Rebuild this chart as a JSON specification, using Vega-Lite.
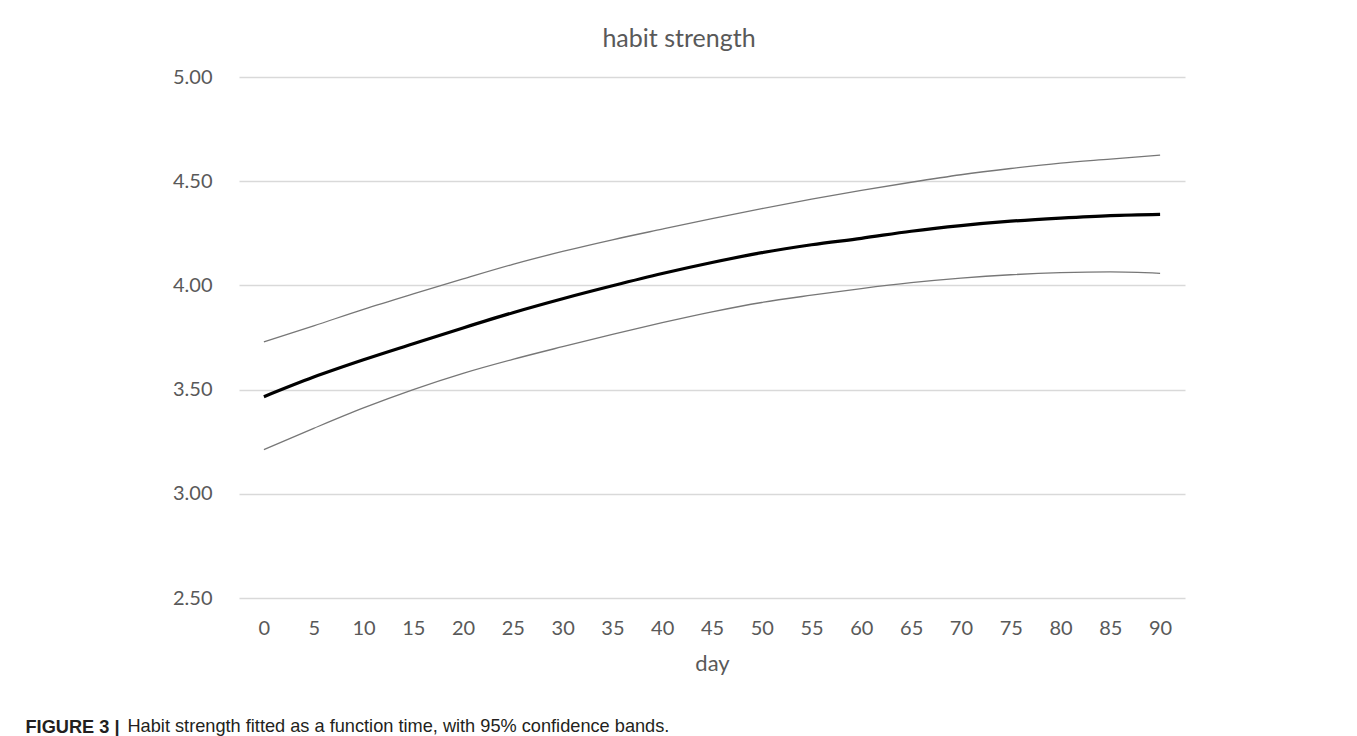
{
  "$schema": "https://vega.github.io/schema/vega-lite/v6.json",
  "autosize": {"type": "pad"},
  "padding": {"left": 25, "top": 27, "right": 10, "bottom": 3},
  "background": "white",
  "title": {
    "text": "Habit strength fitted as a function time, with 95% confidence bands.",
    "orient": "bottom",
    "anchor": "start",
    "font": "Liberation Sans",
    "fontSize": 18.2,
    "fontWeight": "normal",
    "color": "#231f20",
    "dx": 102,
    "offset": -18
  },
  "config": {
    "view": {"stroke": null},
    "font": "Lato",
    "axis": {
      "labelFont": "Lato",
      "labelFontSize": 20,
      "labelColor": "#595959",
      "titleFont": "Lato",
      "titleFontSize": 22,
      "titleColor": "#595959",
      "titleFontWeight": "normal",
      "domain": false,
      "ticks": false,
      "tickSize": 0
    }
  },
  "vconcat": [
    {
      "title": {
        "text": "FIGURE 3 |",
        "orient": "bottom",
        "anchor": "start",
        "font": "Liberation Sans",
        "fontSize": 18.2,
        "fontWeight": "bold",
        "color": "#231f20",
        "dx": -147,
        "offset": 45
      },
      "vconcat": [
        {
          "width": 946,
          "height": 521,
          "title": {
            "text": "habit strength",
            "font": "Lato",
            "fontSize": 25,
            "fontWeight": "normal",
            "color": "#595959",
            "anchor": "middle",
            "dx": -33,
            "offset": 15
          },
          "data": {
            "values": [
              {"day": 0, "lower": 3.212, "estimate": 3.466, "upper": 3.729},
              {"day": 5, "lower": 3.314, "estimate": 3.560, "upper": 3.806},
              {"day": 10, "lower": 3.412, "estimate": 3.643, "upper": 3.885},
              {"day": 15, "lower": 3.500, "estimate": 3.720, "upper": 3.959},
              {"day": 20, "lower": 3.578, "estimate": 3.796, "upper": 4.031},
              {"day": 25, "lower": 3.645, "estimate": 3.869, "upper": 4.101},
              {"day": 30, "lower": 3.706, "estimate": 3.936, "upper": 4.163},
              {"day": 35, "lower": 3.765, "estimate": 3.998, "upper": 4.219},
              {"day": 40, "lower": 3.821, "estimate": 4.057, "upper": 4.270},
              {"day": 45, "lower": 3.873, "estimate": 4.110, "upper": 4.320},
              {"day": 50, "lower": 3.918, "estimate": 4.157, "upper": 4.368},
              {"day": 55, "lower": 3.953, "estimate": 4.195, "upper": 4.414},
              {"day": 60, "lower": 3.985, "estimate": 4.226, "upper": 4.456},
              {"day": 65, "lower": 4.013, "estimate": 4.260, "upper": 4.495},
              {"day": 70, "lower": 4.035, "estimate": 4.287, "upper": 4.531},
              {"day": 75, "lower": 4.051, "estimate": 4.308, "upper": 4.561},
              {"day": 80, "lower": 4.061, "estimate": 4.323, "upper": 4.587},
              {"day": 85, "lower": 4.065, "estimate": 4.335, "upper": 4.606},
              {"day": 90, "lower": 4.058, "estimate": 4.341, "upper": 4.625}
            ]
          },
          "encoding": {
            "x": {
              "field": "day",
              "type": "ordinal",
              "sort": "ascending",
              "scale": {"type": "point", "padding": 0.5},
              "axis": {"labelAngle": 0, "labelPadding": 20, "title": "day", "titlePadding": 15, "grid": false}
            }
          },
          "layer": [
            {
              "mark": {"type": "line", "interpolate": "monotone", "color": "#777777", "strokeWidth": 1.3},
              "encoding": {
                "y": {
                  "field": "upper",
                  "type": "quantitative",
                  "scale": {"domain": [2.5, 5], "nice": false, "zero": false},
                  "axis": {
                    "values": [2.5, 3, 3.5, 4, 4.5, 5],
                    "format": ".2f",
                    "title": null,
                    "labelPadding": 27,
                    "gridColor": "#d9d9d9",
                    "gridWidth": 1.5
                  }
                }
              }
            },
            {
              "mark": {"type": "line", "interpolate": "monotone", "color": "#777777", "strokeWidth": 1.3},
              "encoding": {"y": {"field": "lower", "type": "quantitative"}}
            },
            {
              "mark": {"type": "line", "interpolate": "monotone", "color": "#000000", "strokeWidth": 3.2},
              "encoding": {"y": {"field": "estimate", "type": "quantitative"}}
            }
          ]
        }
      ]
    }
  ]
}
